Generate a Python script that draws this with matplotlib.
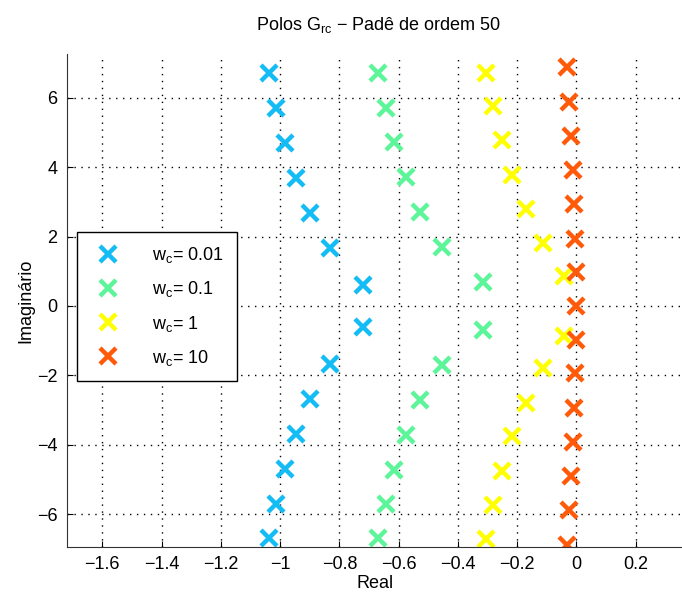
import matplotlib.pyplot as plt

plt.rcParams['font.family'] = ['Liberation Sans', 'DejaVu Sans']
plt.rcParams['mathtext.default'] = 'regular'

# polos (parte real, parte imaginaria positiva); os conjugados sao espelhados
labels = ['0.01', '0.1', '1', '10']
colors = ['#14BCF5', '#5CF59A', '#FFFF00', '#FF5A0A']

real_001 = [-0.72, -0.832, -0.899, -0.946, -0.982, -1.013, -1.039]
imag_001 = [0.60, 1.68, 2.69, 3.69, 4.70, 5.70, 6.70]

real_01 = [-0.317, -0.455, -0.528, -0.576, -0.615, -0.644, -0.670]
imag_01 = [0.70, 1.71, 2.71, 3.72, 4.72, 5.70, 6.70]

real_1 = [-0.043, -0.112, -0.171, -0.216, -0.251, -0.281, -0.306]
imag_1 = [0.87, 1.80, 2.80, 3.76, 4.77, 5.75, 6.72]

real_10 = [0.0, -0.001, -0.004, -0.007, -0.011, -0.017, -0.025, -0.032]
imag_10 = [0.0, 0.99, 1.94, 2.93, 3.93, 4.90, 5.89, 6.88]

series = [(real_001, imag_001), (real_01, imag_01), (real_1, imag_1), (real_10, imag_10)]

fig = plt.figure(figsize=(6.82, 5.94), dpi=100)
ax = fig.add_axes([0.0987, 0.0796, 0.9013, 0.8295])

for (re, im), lab, c in zip(series, labels, colors):
    xs = []
    ys = []
    for r, i in zip(re, im):
        xs.append(r)
        ys.append(i)
        if i != 0:
            xs.append(r)
            ys.append(-i)
    ax.plot(xs, ys, 'x', color=c, markersize=11, markeredgewidth=3.2,
            label='w$_c$= ' + lab)

ax.set_xlim(-1.718, 0.356)
ax.set_ylim(-6.94, 7.26)
ax.set_xticks([-1.6, -1.4, -1.2, -1.0, -0.8, -0.6, -0.4, -0.2, 0.0, 0.2])
ax.set_xticklabels(['\u22121.6', '\u22121.4', '\u22121.2', '\u22121', '\u22120.8',
                    '\u22120.6', '\u22120.4', '\u22120.2', '0', '0.2'])
ax.set_yticks([-6, -4, -2, 0, 2, 4, 6])
ax.set_yticklabels(['\u22126', '\u22124', '\u22122', '0', '2', '4', '6'])
ax.tick_params(direction='in', length=4, labelsize=13, pad=7)
ax.grid(True, linestyle=(0, (1, 4)), color='black', linewidth=1.0)
ax.spines['top'].set_visible(False)
ax.spines['right'].set_visible(False)
ax.spines['left'].set_color('#333333')
ax.spines['bottom'].set_color('#333333')

ax.set_xlabel('Real', fontsize=13, labelpad=1)
ax.set_ylabel('Imaginário', fontsize=13, labelpad=2)
fig.text(0.555, 0.958, 'Polos G$_{rc}$ \u2212 Padê de ordem 50', ha='center', va='center',
         fontsize=13)

leg = ax.legend(loc='upper left', bbox_to_anchor=(0.0153, 0.639), borderaxespad=0,
                fontsize=13, fancybox=False, edgecolor='black', framealpha=1,
                borderpad=0.75, labelspacing=0.78, handletextpad=1.4, handlelength=2.0)
leg.get_frame().set_linewidth(1.0)

fig.savefig('out.png', dpi=100)
